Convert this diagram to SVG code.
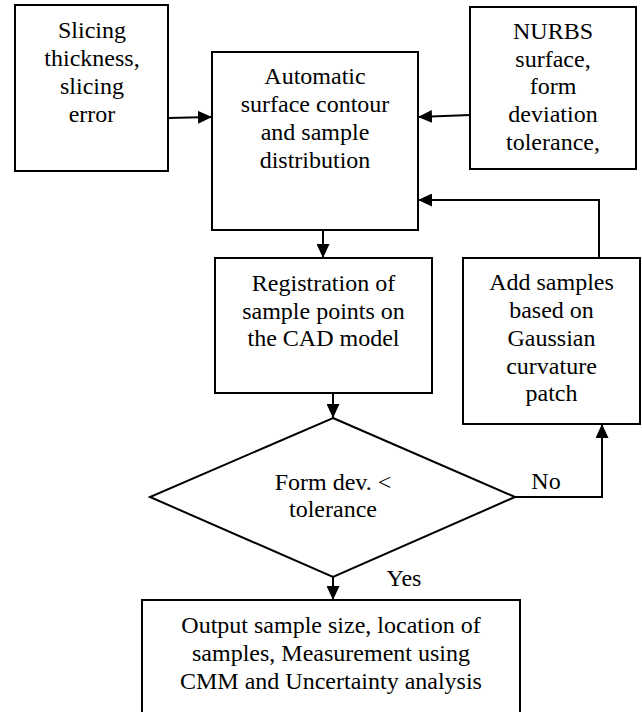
<svg xmlns="http://www.w3.org/2000/svg" width="642" height="712" viewBox="0 0 642 712">
<style>
.box{fill:#fff;stroke:#000;stroke-width:2}
.ln{fill:none;stroke:#000;stroke-width:2}
text{font-family:"Liberation Serif","Times New Roman",serif;font-size:24px;fill:#000;text-anchor:middle}
</style>
<defs>
<marker id="ah" viewBox="0 0 14 13" refX="14" refY="6.5" markerWidth="14" markerHeight="13" markerUnits="userSpaceOnUse" orient="auto">
<path d="M0,0 L14,6.5 L0,13 z" fill="#000"/>
</marker>
</defs>
<rect width="642" height="712" fill="#fff"/>
<g id="connectors">
<line class="ln" x1="168" y1="118" x2="212" y2="117" marker-end="url(#ah)"/>
<line class="ln" x1="470" y1="115" x2="418" y2="117" marker-end="url(#ah)"/>
<line class="ln" x1="323" y1="230" x2="323" y2="258" marker-end="url(#ah)"/>
<line class="ln" x1="333" y1="393" x2="333" y2="418" marker-end="url(#ah)"/>
<polyline class="ln" points="599,258 599,200 418,200" marker-end="url(#ah)"/>
<polyline class="ln" points="515,497 602,497 602,424" marker-end="url(#ah)"/>
<line class="ln" x1="333" y1="577" x2="333" y2="600" marker-end="url(#ah)"/>
<text x="546" y="489">No</text>
<text x="404" y="586">Yes</text>
</g>
<g id="slicing">
<rect class="box" x="15" y="5" width="153" height="166"/>
<text x="92" y="37.5">Slicing</text>
<text x="92" y="65.5">thickness,</text>
<text x="92" y="93.5">slicing</text>
<text x="92" y="121.5">error</text>
</g>
<g id="automatic">
<rect class="box" x="212" y="52" width="206" height="178"/>
<text x="315" y="84">Automatic</text>
<text x="315" y="112">surface contour</text>
<text x="315" y="140">and sample</text>
<text x="315" y="168">distribution</text>
</g>
<g id="nurbs">
<rect class="box" x="470" y="7" width="166" height="162"/>
<text x="553" y="39">NURBS</text>
<text x="553" y="66.5">surface,</text>
<text x="553" y="94">form</text>
<text x="553" y="122">deviation</text>
<text x="553" y="150">tolerance,</text>
</g>
<g id="registration">
<rect class="box" x="215" y="258" width="217" height="135"/>
<text x="323.5" y="291">Registration of</text>
<text x="323.5" y="318.5">sample points on</text>
<text x="323.5" y="346">the CAD model</text>
</g>
<g id="addsamples">
<rect class="box" x="463" y="258" width="177" height="166"/>
<text x="551.5" y="290">Add samples</text>
<text x="551.5" y="318">based on</text>
<text x="551.5" y="346">Gaussian</text>
<text x="551.5" y="373.5">curvature</text>
<text x="551.5" y="401">patch</text>
</g>
<g id="decision">
<polygon class="box" points="333,418 515,497 333,577 150,497"/>
<text x="333" y="490">Form dev. &lt;</text>
<text x="333" y="517">tolerance</text>
</g>
<g id="output">
<rect class="box" x="142" y="600" width="378" height="130"/>
<text x="331" y="633">Output sample size, location of</text>
<text x="331" y="661">samples, Measurement using</text>
<text x="331" y="689">CMM and Uncertainty analysis</text>
</g>
</svg>
